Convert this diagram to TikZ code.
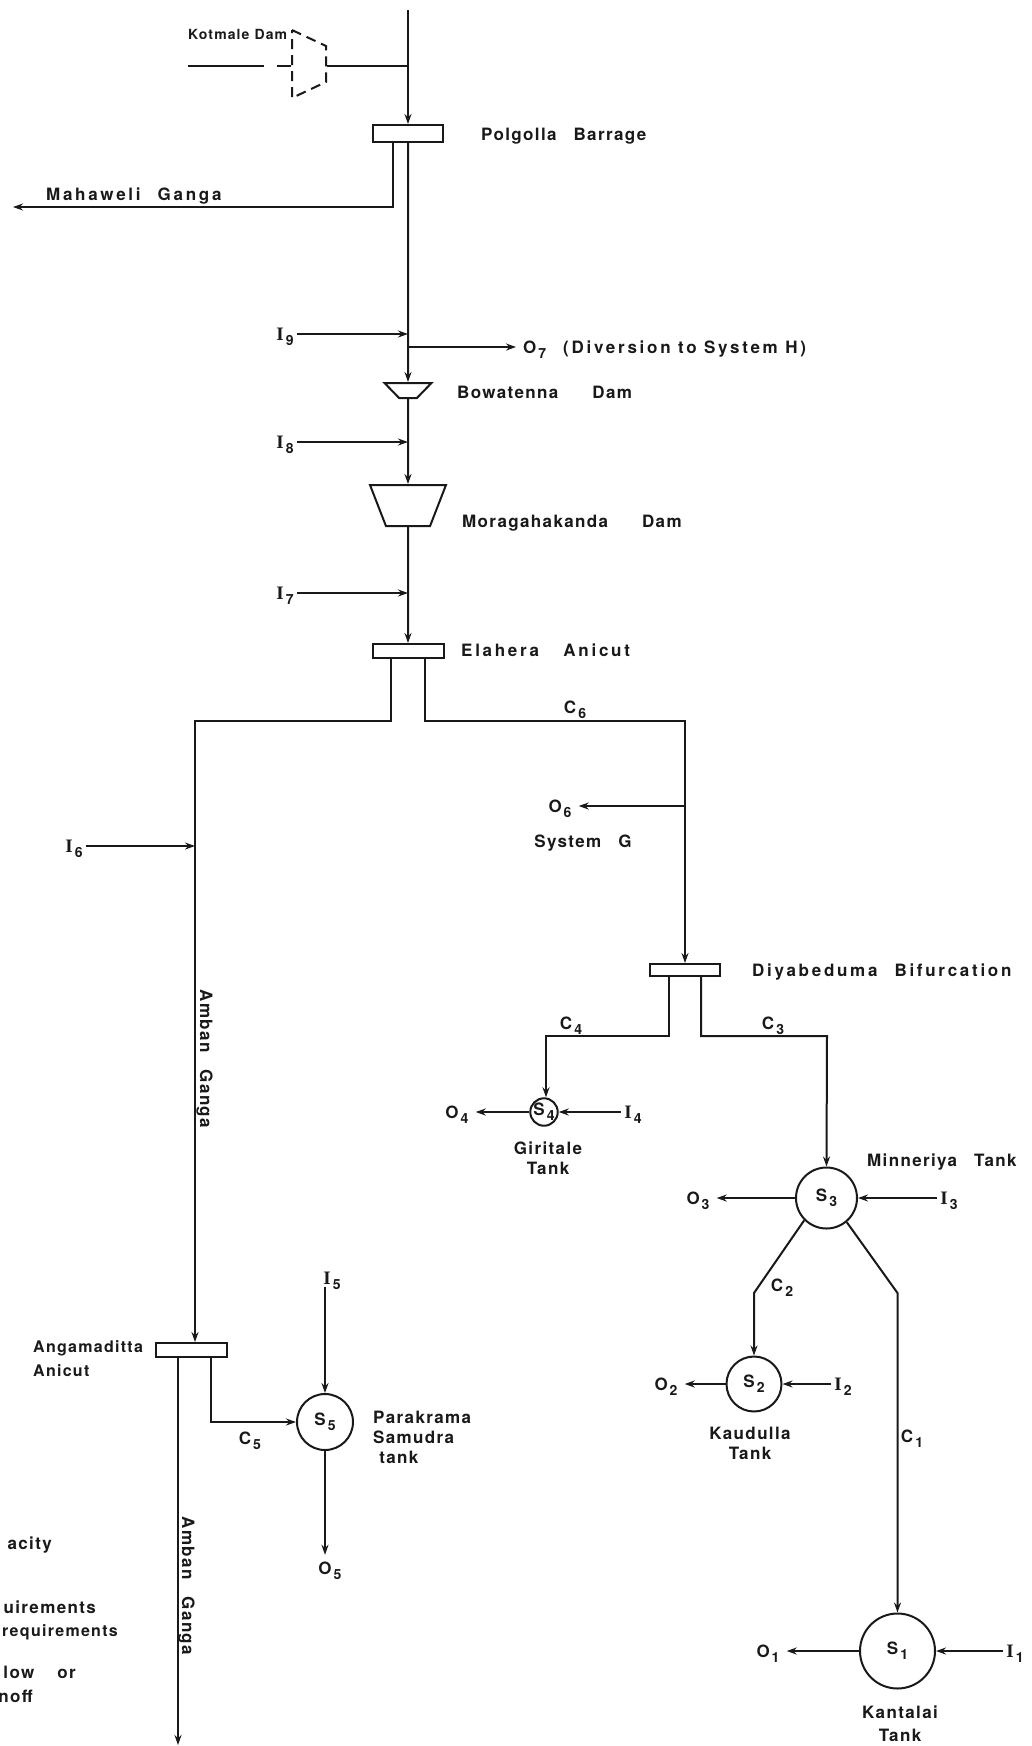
\documentclass[tikz,border=0pt]{standalone}
\usepackage{fontspec}
\setmainfont{TeX Gyre Heros}[LetterSpace=8]
\newfontfamily\serifbold{Liberation Serif}[LetterSpace=8]
\newfontfamily\widefont{TeX Gyre Heros}[LetterSpace=16]
\usetikzlibrary{arrows.meta, shapes.geometric}
\newcommand{\subidx}[2]{#1\kern2pt\raisebox{-5pt}{\fontsize{14}{14}\selectfont #2}}
\newcommand{\inidx}[1]{\subidx{{\fontsize{19}{20}\selectfont\serifbold I}}{#1}}
\tikzset{
	base/.style={line width=2pt, color=black!90},
	arrow/.style={
		base, -{Stealth[length=10pt, width=7pt]}
	},
	plainline/.style={base},
	lbl/.style={
		font=\fontsize{17}{20}\selectfont\bfseries, text=black!90,
		inner sep=0pt, text height=12pt, text depth=0pt, align=left
	},
	widelbl/.style={lbl, font=\fontsize{17}{20}\selectfont\widefont\bfseries},
	inlbl/.style={lbl, inner sep=3pt},
	outlbl/.style={lbl, inner sep=7pt},
	weir/.style={
		rectangle, draw=black!90, line width=2pt, fill=white,
		inner sep=0pt
	},
	dam/.style={
		trapezium, trapezium stretches=true, shape border rotate=180,
		draw=black!90, line width=2pt, inner sep=0pt
	},
	tank/.style={
		circle, draw=black!90, line width=2pt, inner sep=0pt,
		font=\fontsize{17}{20}\selectfont\bfseries, text=black!90
	}
}
\begin{document}
\begin{tikzpicture}[x=1pt, y=-1pt]
	\useasboundingbox (0,0) rectangle (1032,1746);

	% Kotmale and Polgolla
	\coordinate (rivertop) at (408,10);
	\coordinate (kotmalein) at (188,66);
	\coordinate (kotmalegap) at (264,66);
	\coordinate (kotmalestub) at (277,66);
	\coordinate (kotmalejoin) at (408,66);
	\node[dam, dash pattern=on 10pt off 6pt, shape border rotate=270, trapezium angle=65,
		minimum width=68pt, minimum height=34pt] (kotmale) at (309,64) {\phantom{x}};
	\node[lbl, font=\fontsize{14}{16}\selectfont\bfseries, anchor=west] (kotmalelbl) at (188,33) {Kotmale Dam};
	\node[weir, minimum width=70pt, minimum height=17pt] (polgolla) at (408,133.5) {};
	\node[lbl, anchor=west] (polgollalbl) at (481,134) {Polgolla\quad Barrage};
	\coordinate (mahaweliend) at (13,207);
	\node[widelbl, anchor=west] (mahawelilbl) at (46,194) {Mahaweli\quad Ganga};

	% Bowatenna and Moragahakanda
	\node[inlbl] (i9) at (285,334) {\inidx{9}};
	\node[outlbl, widelbl, inner sep=7pt, anchor=west] (o7) at (516,347) {\subidx{O}{7}\quad(Diversion to System H)};
	\node[dam, trapezium angle=52, minimum width=47pt, minimum height=15pt] (bowatenna) at (408,390.5) {\phantom{x}};
	\node[lbl, anchor=west] (bowatennalbl) at (457,392) {Bowatenna\quad\quad Dam};
	\node[inlbl] (i8) at (285,442) {\inidx{8}};
	\node[dam, trapezium angle=71, minimum width=76pt, minimum height=41pt] (moragahakanda) at (408,505.5) {\phantom{x}};
	\node[lbl, anchor=west] (moragahakandalbl) at (462,521) {Moragahakanda\quad\quad Dam};
	\node[inlbl] (i7) at (285,593) {\inidx{7}};

	% Elahera and the two canals
	\node[weir, minimum width=71pt, minimum height=14pt] (elahera) at (408,651) {};
	\node[widelbl, anchor=west] (elaheralbl) at (461,650) {Elahera\quad\ Anicut};
	\coordinate (ambancorner) at (195,721);
	\coordinate (c6corner) at (685,721);
	\node[lbl] (c6) at (575,707) {\subidx{C}{6}};
	\node[outlbl] (o6) at (560,806) {\subidx{O}{6}};
	\node[lbl] (systemg) at (583,841) {System\quad G};
	\node[inlbl] (i6) at (74,846) {\inidx{6}};
	\node[lbl, rotate=-90] (ambanup) at (206,1059) {Amban\quad Ganga};

	% Diyabeduma
	\node[weir, minimum width=70pt, minimum height=12pt] (diyabeduma) at (685,970) {};
	\node[widelbl, anchor=west] (diyabedumalbl) at (752,970) {Diyabeduma\quad Bifurcation};
	\coordinate (c4corner) at (546,1036);
	\coordinate (c3corner) at (827,1036);
	\node[lbl] (c4) at (571,1023) {\subidx{C}{4}};
	\node[lbl] (c3) at (773,1023) {\subidx{C}{3}};

	% Giritale
	\node[tank, minimum size=27pt] (s4) at (544,1112) {\subidx{S}{4}};
	\node[outlbl] (o4) at (457,1112) {\subidx{O}{4}};
	\node[inlbl] (i4) at (633,1112) {\inidx{4}};
	\node[lbl, align=center] (giritalelbl) at (548,1168) {Giritale\\Tank};

	% Minneriya
	\node[tank, minimum size=61pt] (s3) at (826.5,1198) {\subidx{S}{3}};
	\node[outlbl] (o3) at (698,1198) {\subidx{O}{3}};
	\node[inlbl] (i3) at (949,1198) {\inidx{3}};
	\node[lbl, anchor=west] (minneriyalbl) at (867,1160) {Minneriya\quad Tank};
	\coordinate (c2corner) at (754,1293);
	\coordinate (c1corner) at (897.5,1293);
	\node[lbl] (c2) at (782,1285) {\subidx{C}{2}};
	\node[lbl] (c1) at (912,1436) {\subidx{C}{1}};

	% Kaudulla
	\node[tank, minimum size=55pt] (s2) at (754,1384) {\subidx{S}{2}};
	\node[outlbl] (o2) at (666,1384) {\subidx{O}{2}};
	\node[inlbl] (i2) at (843,1384) {\inidx{2}};
	\node[lbl, align=center] (kaudullalbl) at (750,1453) {Kaudulla\\Tank};

	% Kantalai
	\node[tank, minimum size=75pt] (s1) at (897.5,1651) {\subidx{S}{1}};
	\node[outlbl] (o1) at (768,1651) {\subidx{O}{1}};
	\node[inlbl] (i1) at (1015,1651) {\inidx{1}};
	\node[lbl, align=center] (kantalailbl) at (900,1735) {Kantalai\\[3pt]Tank};

	% Angamaditta and Parakrama Samudra
	\node[weir, minimum width=71pt, minimum height=14pt] (angamaditta) at (191.5,1350) {};
	\node[lbl, font=\fontsize{16}{20}\selectfont\bfseries, anchor=west] (angamadittalbl) at (33,1370) {Angamaditta\\[4pt]Anicut};
	\node[tank, minimum size=56pt] (s5) at (325,1422) {\subidx{S}{5}};
	\node[inlbl] (i5) at (332,1278) {\inidx{5}};
	\node[outlbl] (o5) at (330,1568) {\subidx{O}{5}};
	\node[lbl] (c5) at (250,1438) {\subidx{C}{5}};
	\node[lbl, anchor=west] (parakramalbl) at (373,1457) {Parakrama\\Samudra\\\ tank};
	\node[lbl, rotate=-90] (ambandown) at (188,1586) {Amban\quad Ganga};
	\coordinate (ambanend) at (178,1745);

	% legend cut by the page edge
	\node[lbl, anchor=east] (legenda) at (52,1543) {acity};
	\node[lbl, anchor=east] (legendb) at (96,1607) {uirements};
	\node[lbl, font=\fontsize{16}{20}\selectfont\bfseries, anchor=east] (legendc) at (118,1630) {requirements};
	\node[lbl, anchor=east] (legendd) at (76,1672) {low\quad\ or};
	\node[lbl, anchor=east] (legende) at (33,1696) {noff};

	% Main river
	\draw[arrow] (rivertop) -- (polgolla.north);
	\draw[plainline] (kotmalein) -- (kotmalegap);
	\draw[plainline] (kotmale.east |- kotmalejoin) -- (kotmalejoin);
	\draw[plainline] (kotmalestub) -- (kotmale.west |- kotmalestub);
	\draw[arrow] (polgolla.south) -- (bowatenna.north);
	\draw[arrow] ([xshift=-15pt]polgolla.south) |- (mahaweliend);
	\draw[arrow] (i9) -- (i9 -| polgolla);
	\draw[arrow] (o7.west -| polgolla) -- (o7.west);
	\draw[arrow] (bowatenna.south) -- (moragahakanda.north);
	\draw[arrow] (i8) -- (i8 -| polgolla);
	\draw[arrow] (moragahakanda.south) -- (elahera.north);
	\draw[arrow] (i7) -- (i7 -| polgolla);

	% Canals from Elahera
	\draw[arrow] ([xshift=-17pt]elahera.south) |- (ambancorner) -- (ambancorner |- angamaditta.north);
	\draw[arrow] ([xshift=17pt]elahera.south) |- (c6corner) -- (diyabeduma.north);
	\draw[arrow] (o6 -| diyabeduma) -- (o6);
	\draw[arrow] (i6) -- (i6 -| ambancorner);

	% Canals from Diyabeduma
	\draw[arrow] ([xshift=-16pt]diyabeduma.south) |- (c4corner) -- (s4.north -| c4corner);
	\draw[arrow] ([xshift=16pt]diyabeduma.south) |- (c3corner) -- (s3.north);
	\draw[arrow] (s4) -- (o4);
	\draw[arrow] (i4) -- (s4);

	% Tanks
	\draw[arrow] (s3) -- (o3);
	\draw[arrow] (i3) -- (s3);
	\draw[arrow] (s3.225) -- (c2corner) -- (s2.north);
	\draw[arrow] (s3.-50) -- (c1corner) -- (s1.north);
	\draw[arrow] (s2) -- (o2);
	\draw[arrow] (i2) -- (s2);
	\draw[arrow] (s1) -- (o1);
	\draw[arrow] (i1) -- (s1);

	% Amban Ganga and Parakrama Samudra
	\draw[arrow] (angamaditta.south -| ambanend) -- (ambanend);
	\draw[arrow] ([xshift=19pt]angamaditta.south) |- (s5.west);
	\draw[arrow] (s5.north |- i5.south) -- (s5.north);
	\draw[arrow] (s5.south) -- (s5.south |- o5.north);
\end{tikzpicture}
\end{document}
